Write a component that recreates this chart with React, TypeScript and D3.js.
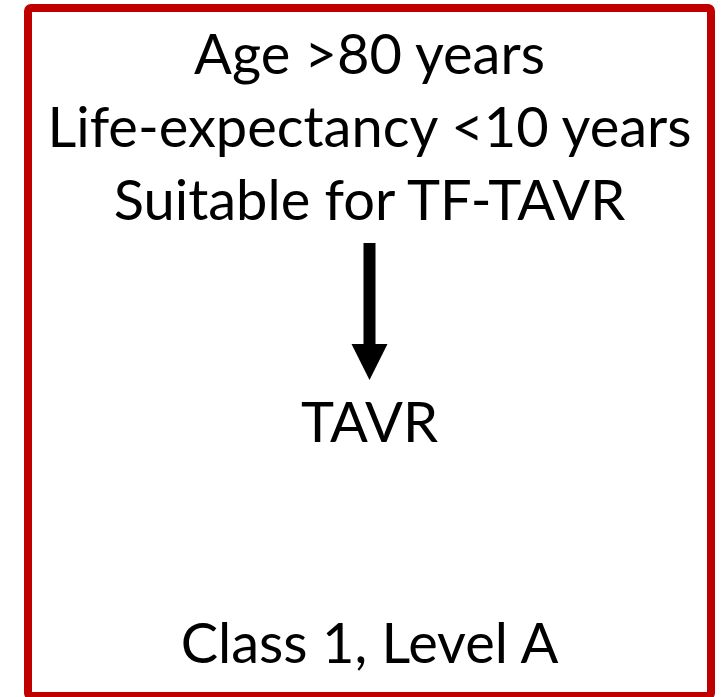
import React from "react";
import * as d3 from "d3";

const criteriaLines = ["Age >80 years", "Life-expectancy <10 years", "Suitable for TF-TAVR"];
const outcomeLabel = "TAVR";
const recommendation = "Class 1, Level A";

const W = 725;
const H = 697;

export default function App() {
  const cx = 369.5;
  const fontFamily = "Lato, 'Open Sans', sans-serif";
  const fontSize = 56;
  const lineY = d3.scaleLinear().domain([0, 2]).range([74, 220]);
  // arrow geometry
  const shaftW = 12;
  const headW = 36;
  const top = 243;
  const headTop = 344;
  const tip = 380;
  const arrowPts: [number, number][] = [
    [cx - shaftW / 2, top],
    [cx + shaftW / 2, top],
    [cx + shaftW / 2, headTop],
    [cx + headW / 2, headTop],
    [cx, tip],
    [cx - headW / 2, headTop],
    [cx - shaftW / 2, headTop],
  ];
  const arrowPath = d3.line()(arrowPts) + "Z";
  return (
    <svg width={W} height={H} style={{ position: "absolute", left: 0, top: 0, display: "block" }}>
      <rect x={0} y={0} width={W} height={H} fill="#fff" />
      <rect x={28} y={8} width={683} height={688} fill="#fff" stroke="#C00000" strokeWidth={8} rx={3} />
      {criteriaLines.map((t, i) => (
        <text key={t} x={cx} y={lineY(i)} textAnchor="middle" fontFamily={fontFamily} fontSize={fontSize} fill="#000">
          {t}
        </text>
      ))}
      <path d={arrowPath} fill="#000" />
      <text x={cx} y={442} textAnchor="middle" fontFamily={fontFamily} fontSize={fontSize} fill="#000">
        {outcomeLabel}
      </text>
      <text x={cx} y={663} textAnchor="middle" fontFamily={fontFamily} fontSize={fontSize} fill="#000">
        {recommendation}
      </text>
    </svg>
  );
}
